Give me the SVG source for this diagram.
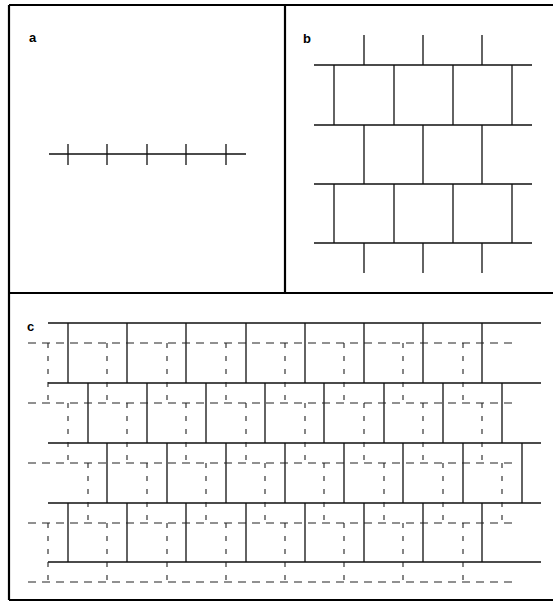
<svg xmlns="http://www.w3.org/2000/svg" width="553" height="602" viewBox="0 0 553 602">
<style>
.frame{stroke:#000;stroke-width:2.2;fill:none}
.solid{stroke:#111;stroke-width:1.3;fill:none}
.dh{stroke:#222;stroke-width:1.1;fill:none;stroke-dasharray:8 6}
.dv{stroke:#222;stroke-width:1.1;fill:none;stroke-dasharray:5 8}
.lbl{font-family:"Liberation Sans",Arial,sans-serif;font-weight:bold;font-size:13px;fill:#000}
</style>
<rect width="553" height="602" fill="#fff"/>
<g id="frame">
<path class="frame" d="M9,5 H553 M9,5 V600 M9,600 H553 M285,5 V293 M9,293 H553"/>
</g>
<g id="panel-a">
<text class="lbl" x="29" y="42">a</text>
<path class="solid" d="M49,154 H246 M68,144 V165 M107,144 V165 M147,144 V165 M186,144 V165 M226,144 V165"/>
</g>
<g id="panel-b">
<text class="lbl" x="303" y="43">b</text>
<path class="solid" d="M314,65 H532 M314,125 H532 M314,184 H532 M314,243 H532
M364,35 V65 M423,35 V65 M482,35 V65
M334,65 V125 M394,65 V125 M453,65 V125 M512,65 V125
M364,125 V184 M423,125 V184 M482,125 V184
M334,184 V243 M394,184 V243 M453,184 V243 M512,184 V243
M364,243 V273 M423,243 V273 M482,243 V273"/>
</g>
<g id="panel-c">
<text class="lbl" x="27" y="331">c</text>
<path class="solid" d="M48,323 H541 M48,383 H541 M48,443 H541 M48,503 H541 M48,562 H541
M68,323 V383 M127,323 V383 M186,323 V383 M246,323 V383 M305,323 V383 M364,323 V383 M423,323 V383 M482,323 V383
M88,383 V443 M147,383 V443 M206,383 V443 M265,383 V443 M324,383 V443 M384,383 V443 M443,383 V443 M502,383 V443
M107,443 V503 M167,443 V503 M226,443 V503 M285,443 V503 M344,443 V503 M403,443 V503 M463,443 V503 M522,443 V503
M68,503 V562 M127,503 V562 M186,503 V562 M246,503 V562 M305,503 V562 M364,503 V562 M423,503 V562 M482,503 V562"/>
<path class="dh" d="M28,343 H518 M28,403 H518 M28,463 H518 M28,523 H518 M28,582 H518"/>
<path class="dv" d="M48,343 V403 M107,343 V403 M167,343 V403 M226,343 V403 M285,343 V403 M344,343 V403 M403,343 V403 M463,343 V403
M68,403 V463 M127,403 V463 M186,403 V463 M246,403 V463 M305,403 V463 M364,403 V463 M423,403 V463 M482,403 V463
M88,463 V523 M147,463 V523 M206,463 V523 M265,463 V523 M324,463 V523 M384,463 V523 M443,463 V523 M502,463 V523
M48,523 V582 M107,523 V582 M167,523 V582 M226,523 V582 M285,523 V582 M344,523 V582 M403,523 V582 M463,523 V582"/>
</g>
</svg>
